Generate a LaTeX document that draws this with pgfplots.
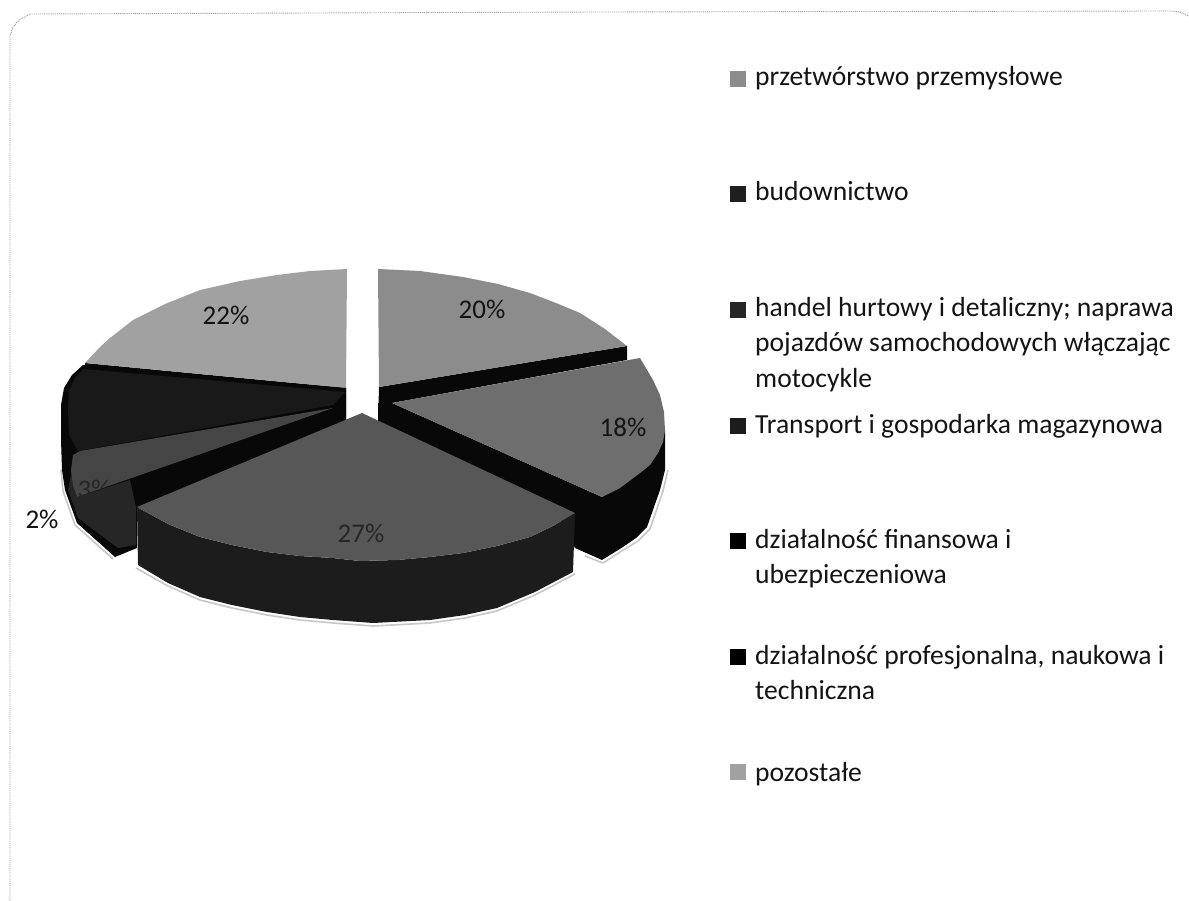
\documentclass[border=0pt]{standalone}
\usepackage{pgfplots}
\pgfplotsset{compat=1.18}
\usepackage{fontspec}
\setmainfont{Carlito}
\definecolor{sPrzetw}{gray}{0.55}
\definecolor{sBudow}{gray}{0.43}
\definecolor{sHandel}{gray}{0.34}
\definecolor{sTrans}{gray}{0.27}
\definecolor{sProf}{gray}{0.10}
\definecolor{sPoz}{gray}{0.63}
\definecolor{sideA}{gray}{0.03}
\definecolor{sideB}{gray}{0.11}
\definecolor{sideC}{gray}{0.15}
\definecolor{halo}{gray}{0.78}
\definecolor{txt}{gray}{0.08}
\tikzset{
  lbl/.style={font=\fontsize{27}{32}\selectfont, text=txt, inner sep=0pt},
  leg/.style={font=\fontsize{27.6}{32}\selectfont, text=txt, inner sep=0pt, anchor=base west},
  key/.style={only marks, mark=square*, mark size=7.5pt, mark options={draw=#1, fill=#1, line width=0pt}},
}
\begin{document}
\begin{tikzpicture}
\path[use as bounding box] (0,0) rectangle (1189pt,901pt);
\begin{axis}[
  at={(0,0)}, anchor=south west,
  scale only axis, width=1189pt, height=901pt,
  xmin=0, xmax=1189, ymin=0, ymax=901, y dir=reverse,
  hide axis, clip=false,
  every axis plot/.append style={draw=none, line join=round},
]
% chart frame, open at the bottom
\addplot[draw=gray!85, line width=0.9pt, densely dotted] coordinates {
  (10,901) (10,885) (10,36) (13,27) (19,20) (30,14) (600,12) (1170,11) (1180,12) (1189,16)};

% soft edge under the outer rims
\addplot[draw=halo, line width=1.6pt] coordinates {
  (575,574) (535,595) (497,611) (465,618) (430,623) (373,626) (333,623) (300,620)
  (267,615) (232,608) (200,600) (168,586) (136,568)};
\addplot[draw=halo, line width=1.6pt] coordinates {
  (668,470) (663,491) (650,529) (638,541) (625,549) (603,563) (585,556)};
\addplot[draw=halo, line width=1.6pt] coordinates {
  (61,470) (63,491) (75,525) (113,559)};

% pozostale
\addplot[fill=sideA] coordinates {(85,363) (346,388) (346,420) (85,420)};
\addplot[fill=sPoz] coordinates {
  (347,269) (310,271) (277,275) (240,281) (200,290) (165,304) (133,320)
  (110,338) (100,347) (85,363) (346,388)};

% przetworstwo przemyslowe
\addplot[fill=sideA] coordinates {(379,387) (627,346) (627,360) (392,403) (378,423)};
\addplot[fill=sPrzetw] coordinates {
  (379,387) (378,269) (420,271) (463,277) (498,284) (530,293) (556,303)
  (580,313) (605,329) (627,346)};

% budownictwo
\addplot[fill=sideA] coordinates {
  (392,403) (602,497) (658,453) (665,430) (665,470) (660,490) (647,527)
  (636,538) (623,547) (602,560) (575,548) (560,520) (378,423) (378,403)};
\addplot[fill=sBudow] coordinates {
  (392,403) (640,358) (653,380) (660,395) (664,412) (665,430) (663,442)
  (658,453) (650,465) (640,473) (620,488) (602,497)};

% dzialalnosc profesjonalna, finansowa and transport, rear to front
\addplot[fill=sideA] coordinates {
  (83,365) (72,375) (64,388) (61,405) (61,440) (62,470) (65,490) (77,523)
  (115,557) (137,548) (137,509) (346,422) (346,388)};
\addplot[fill=sProf] coordinates {
  (83,369) (75,378) (69,390) (68,410) (69,435) (78,451) (333,405) (345,392) };
\addplot[fill=sideC] coordinates {
  (72,470) (77,497) (130,480) (136,507) (136,545) (118,548) (78,518) (68,490)};
\addplot[fill=sTrans] coordinates {
  (333,408) (80,451) (73,455) (71,470) (73,485) (77,497)};

% handel hurtowy i detaliczny
\addplot[fill=sideB] coordinates {
  (137,507) (168,524) (200,537) (232,545) (267,552) (300,556) (333,558)
  (360,561) (397,560) (430,557) (463,553) (497,546) (530,537) (553,526)
  (575,513) (573,572) (535,592) (497,608) (465,615) (430,620) (373,623)
  (333,620) (300,617) (267,612) (232,605) (200,597) (168,583) (138,565)};
\addplot[fill=sHandel] coordinates {
  (362,413) (575,513) (553,526) (530,537) (497,546) (463,553) (430,557)
  (397,560) (360,561) (333,558) (300,556) (267,552) (232,545) (200,537)
  (168,524) (137,507)};

% percentage labels
\node[lbl] at (axis cs:482,309) {20\%};
\node[lbl] at (axis cs:623,427) {18\%};
\node[lbl, text=black!85] at (axis cs:361,533) {27\%};
\node[lbl] at (axis cs:42,519) {2\%};
\node[lbl, text=black!85] at (axis cs:94,489) {3\%};
\node[lbl] at (axis cs:226,315) {22\%};

% legend keys
\addplot[key=sPrzetw] coordinates {(738,79)};
\addplot[key=sideC!80!black] coordinates {(738,194)};
\addplot[key=sideC] coordinates {(738,310)};
\addplot[key=sideB] coordinates {(738,426)};
\addplot[key=black] coordinates {(738,541)};
\addplot[key=black] coordinates {(738,657)};
\addplot[key=sPoz] coordinates {(738,772)};

% legend entries
\node[leg] at (axis cs:755,86) {przetwórstwo przemysłowe};
\node[leg] at (axis cs:755,201) {budownictwo};
\node[leg] at (axis cs:755,317) {handel hurtowy i detaliczny; naprawa};
\node[leg] at (axis cs:755,352) {pojazdów samochodowych włączając};
\node[leg] at (axis cs:755,387) {motocykle};
\node[leg] at (axis cs:755,433) {Transport i gospodarka magazynowa};
\node[leg] at (axis cs:755,548) {działalność finansowa i};
\node[leg] at (axis cs:755,583) {ubezpieczeniowa};
\node[leg] at (axis cs:755,664) {działalność profesjonalna, naukowa i};
\node[leg] at (axis cs:755,699) {techniczna};
\node[leg] at (axis cs:755,781) {pozostałe};
\end{axis}
\end{tikzpicture}
\end{document}
